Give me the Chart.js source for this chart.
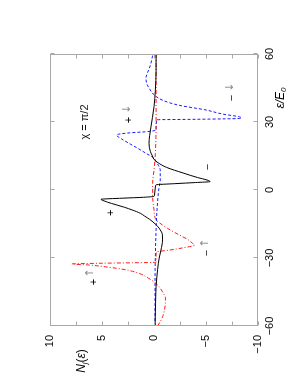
<!DOCTYPE html>
<html>
<head>
<meta charset="utf-8">
<script src="https://cdn.jsdelivr.net/npm/chart.js@4.4.0/dist/chart.umd.min.js"></script>
<style>
html, body { margin: 0; padding: 0; background: #fff; overflow: hidden; }
#wrap {
    position: absolute; left: 0; top: 0;
    width: 392px; height: 303px;
    transform-origin: 0 0;
    transform: translateY(392px) rotate(-90deg);
}
</style>
</head>
<body>
<div id="wrap"><canvas id="c" width="392" height="303"></canvas></div>
<script>
// energy (eps/E0) and N_j(eps)
const blackEps = [-60, -50, -42.6, -35, -30, -26.5, -22, -19.5, -17.6, -16, -14.5, -13, -11.5, -10.3, -8.8, -7.6, -5.9, -4.8, -4.1, -3.6, -3.2, -2.8, -2.2, 0, 2.0, 2.3, 2.8, 3.3, 3.7, 4.4, 5.5, 7.5, 10, 12, 13.5, 15, 17, 20.6, 24, 27.9, 32, 36.7, 44, 52.9, 60];
const blackN   = [-0.1, -0.15, -0.2, -0.35, -0.5, -0.67, -0.82, -0.8, -0.6, -0.35, 0, 0.4, 0.9, 1.3, 2.1, 2.85, 4.1, 4.8, 5.1, 3, 1, 0, -0.05, -0.1, -0.15, -0.2, -2, -4, -5.4, -5.1, -4.2, -2.8, -1.2, -0.4, 0, 0.15, 0.35, 0.48, 0.42, 0.29, 0.15, 0, -0.13, -0.2, -0.2];

const redEps = [-60, -55.9, -50, -47.5, -45.6, -43, -41.2, -39, -36.8, -35.5, -34.5, -33.7, -33.1, -32.6, -32.3, -32.1, -31.9, -29, -27.3, -26.5, -25.5, -24.3, -23.5, -22, -20.6, -18.5, -16.9, -14.4, -13.2, -11, -8.8, -5, -2.9, 2.9, 8.8, 16.2, 30, 60];
const redN   = [-0.35, -0.83, -1.09, -1.1, -0.9, -0.55, -0.19, 0.5, 1.41, 2.4, 3.65, 5.0, 6.2, 7.9, 5, 2, -0.2, -0.2, -0.25, -1.5, -2.8, -3.9, -3.7, -3.3, -2.75, -1.9, -1.3, -0.5, -0.2, -0.05, 0, 0.1, 0.13, 0.13, 0, -0.13, -0.2, -0.2];

const blueEps = [-60, -40, -25, -17.6, -11.8, -5, 0, 4.4, 8.8, 11, 12.5, 14, 16.2, 18.5, 20.6, 22.5, 24.3, 25.2, 25.7, 26.5, 31.0, 31.2, 31.6, 32.3, 33.5, 35.3, 37.4, 39.6, 41.9, 44.8, 47, 49.4, 52, 55, 60];
const blueN   = [-0.1, -0.1, -0.15, -0.2, -0.25, -0.35, -0.45, -0.6, -0.6, -0.4, -0.2, 0, 0.77, 1.6, 2.4, 3.1, 3.6, 2.4, 0.8, -0.2, -0.25, -4, -8.4, -8.2, -6.6, -5.0, -2.4, -0.83, -0.03, 0.45, 0.7, 0.77, 0.6, 0.35, 0.1];

// axis ticks
const epsTicks = [-60, -30, 0, 30, 60];
const nTicks = [-10, -7.5, -5, -2.5, 0, 2.5, 5, 7.5, 10];

// text labels placed at (eps, N)
const noteText = ['χ = π/2', '+', '−', '+', '↑', '−', '↑', '+', '↓', '−', '↓'];
const noteEps  = [30, -10.1, 10.1, -40.6, -36.6, -27.8, -23.4, 30.9, 35.7, 40.6, 45.4];
const noteN    = [6.6, 4.1, -5.2, 5.8, 6.1, -5.1, -4.9, 2.4, 2.6, -7.5, -7.3];

const FONT = '"Liberation Sans", Arial, sans-serif';

function pts(xs, ys) {
    return xs.map((x, i) => ({ x: x, y: ys[i] }));
}
function minus(v) {
    return String(v).replace('-', '\u2212');
}

function drawParts(ctx, parts, cx, cy) {
    let w = 0;
    parts.forEach(p => { ctx.font = p.font; w += ctx.measureText(p.t).width; });
    let x = cx - w / 2;
    ctx.textAlign = 'left';
    ctx.textBaseline = 'middle';
    parts.forEach(p => {
        ctx.font = p.font;
        ctx.fillText(p.t, x, cy + (p.dy || 0));
        x += ctx.measureText(p.t).width;
    });
}

const framePlugin = {
    id: 'frame',
    afterDraw(chart) {
        const { ctx, chartArea: a, scales: { x, y } } = chart;
        const L = Math.round(a.left) + 0.5, R = Math.round(a.right) - 0.5;
        const T = Math.round(a.top) + 0.5, B = Math.round(a.bottom) - 0.5;
        ctx.save();
        ctx.strokeStyle = '#a8a8a8';
        ctx.lineWidth = 1;
        ctx.strokeRect(L, T, R - L, B - T);
        ctx.beginPath();
        nTicks.forEach(v => {
            const py = Math.round(y.getPixelForValue(v)) + 0.5;
            ctx.moveTo(L, py); ctx.lineTo(L + 4, py);
            ctx.moveTo(R, py); ctx.lineTo(R - 4, py);
        });
        epsTicks.forEach(v => {
            const px = Math.round(x.getPixelForValue(v)) + 0.5;
            ctx.moveTo(px, B); ctx.lineTo(px, B - 4);
            ctx.moveTo(px, T); ctx.lineTo(px, T + 4);
        });
        ctx.stroke();

        ctx.fillStyle = '#000';
        // axis titles
        drawParts(ctx, [
            { t: 'N', font: 'italic 12px ' + FONT },
            { t: 'j', font: 'italic 8px ' + FONT, dy: 3 },
            { t: '(', font: '12px ' + FONT },
            { t: 'ε', font: 'italic 12px ' + FONT },
            { t: ')', font: '12px ' + FONT }
        ], a.left - 35, a.top + 32);
        drawParts(ctx, [
            { t: 'ε/E', font: 'italic 12px ' + FONT },
            { t: '0', font: 'italic 8px ' + FONT, dy: 3 }
        ], a.right - 44, a.bottom + 23);

        // notes
        ctx.textAlign = 'center';
        ctx.textBaseline = 'middle';
        noteText.forEach((t, i) => {
            const arrow = (t === '↑' || t === '↓');
            ctx.font = arrow ? '11px "DejaVu Sans", sans-serif' : '11px ' + FONT;
            ctx.fillStyle = arrow ? '#8a8a8a' : '#111';
            ctx.fillText(t, x.getPixelForValue(noteEps[i]), y.getPixelForValue(noteN[i]));
        });
        ctx.restore();
    }
};

const lineBase = {
    borderWidth: 1,
    pointRadius: 0,
    fill: false,
    cubicInterpolationMode: 'monotone'
};

new Chart(document.getElementById('c'), {
    type: 'line',
    data: {
        datasets: [
            Object.assign({ label: 'total', data: pts(blackEps, blackN), borderColor: '#000' }, lineBase),
            Object.assign({ label: 'up', data: pts(redEps, redN), borderColor: '#ff1a1a', borderDash: [4, 2, 1, 2] }, lineBase),
            Object.assign({ label: 'down', data: pts(blueEps, blueN), borderColor: '#1a1aff', borderDash: [3, 2] }, lineBase)
        ]
    },
    options: {
        responsive: false,
        animation: false,
        layout: { padding: { top: 50, right: 54, left: 0, bottom: 0 } },
        plugins: { legend: { display: false }, tooltip: { enabled: false } },
        scales: {
            x: {
                type: 'linear',
                min: -60, max: 60,
                afterFit: s => { s.height = 45; },
                afterBuildTicks: s => { s.ticks = epsTicks.map(v => ({ value: v })); },
                grid: { display: false, drawTicks: false },
                border: { display: false },
                ticks: { padding: 5, color: '#000', font: { family: FONT, size: 11 }, maxRotation: 0, callback: v => minus(v) }
            },
            y: {
                min: -10, max: 10,
                afterFit: s => { s.width = 66; },
                afterBuildTicks: s => { s.ticks = [-10, -5, 0, 5, 10].map(v => ({ value: v })); },
                grid: { display: false, drawTicks: false },
                border: { display: false },
                ticks: { padding: 9, color: '#000', font: { family: FONT, size: 11 }, callback: v => minus(v) }
            }
        }
    },
    plugins: [framePlugin]
});
</script>
</body>
</html>
